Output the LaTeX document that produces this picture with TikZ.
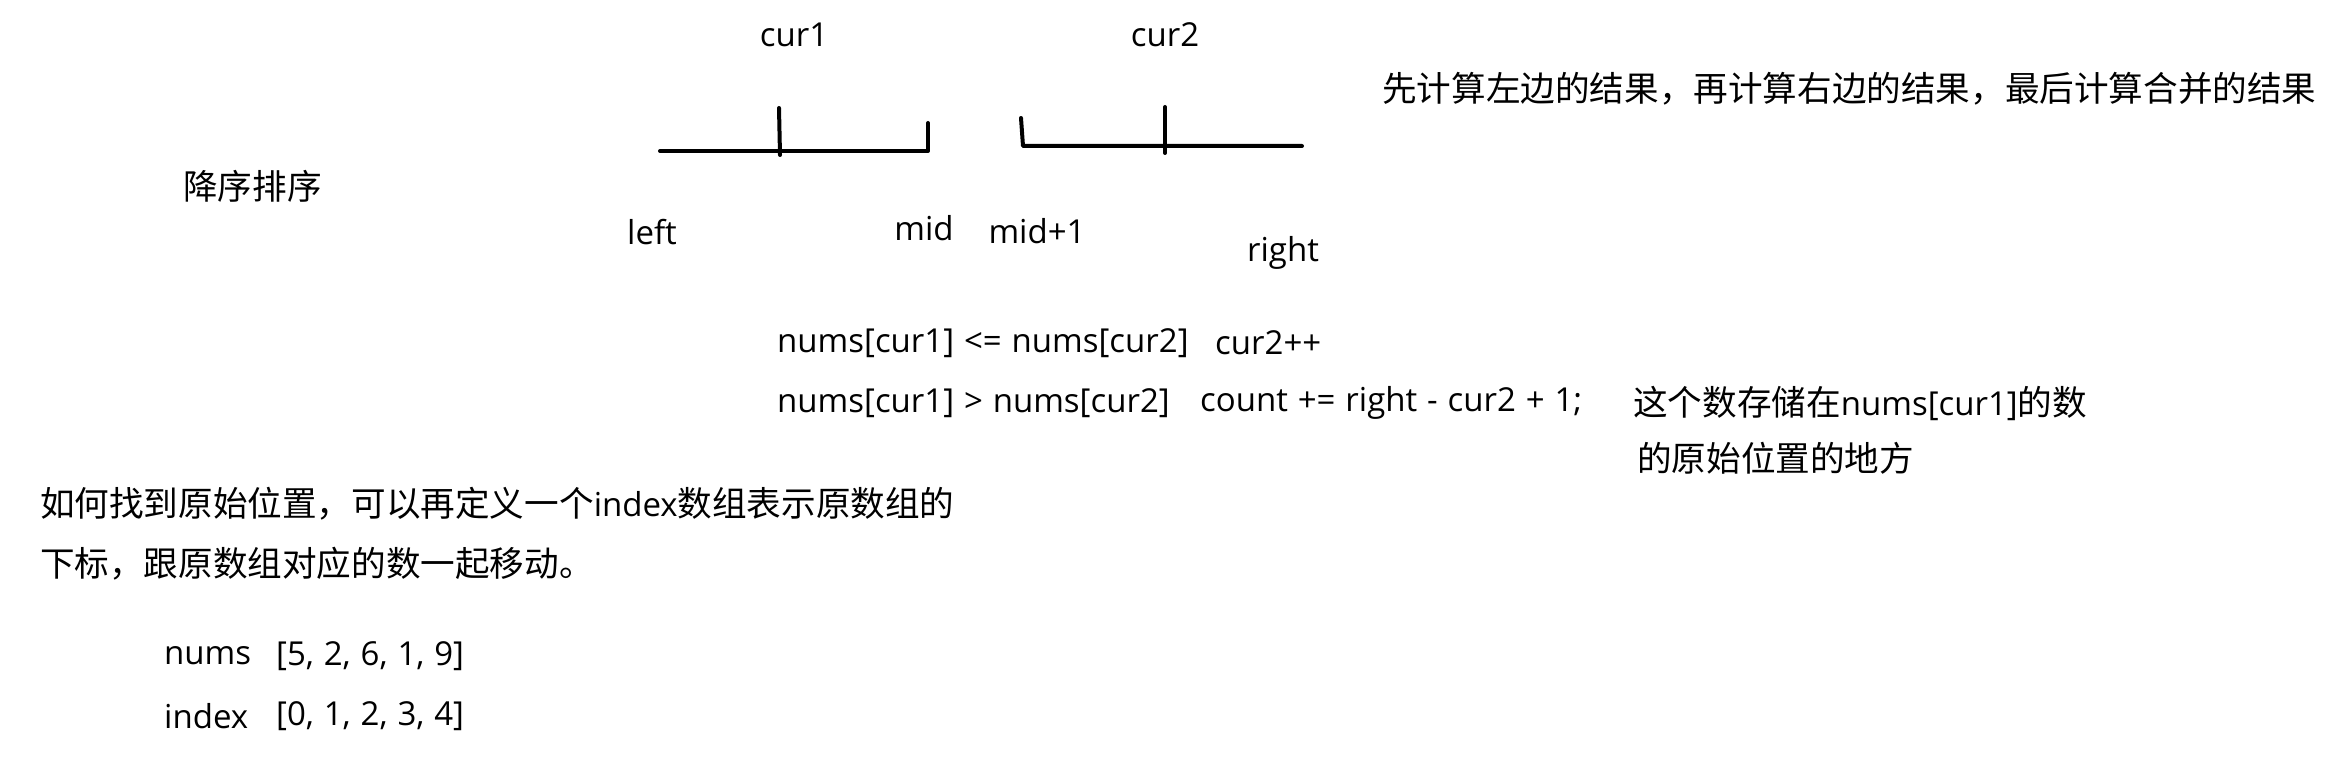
\documentclass[tikz,border=0pt]{standalone}
\usepackage{fontspec}
\setmainfont{Open Sans}[WordSpace=1.15]
\newfontfamily\cjkfont{Noto Sans CJK SC}
\newcommand\zhtext[1]{{\cjkfont\fontsize{34.6}{40}\selectfont #1}}
\begin{document}
\begin{tikzpicture}[x=1pt,y=-1pt,
  every node/.style={inner sep=0pt, font=\fontsize{33}{40}\selectfont},
  lbl/.style={anchor=west},
  stroke/.style={line width=4pt, line cap=round, line join=round}]
\useasboundingbox[fill=white] (0,0) rectangle (2338,759);
% sketch strokes
\draw[stroke] (660,151) -- (928,151) -- (928,123);
\draw[stroke] (779,108) -- (780,155);
\draw[stroke] (1021,118) -- (1023,146) -- (1302,146);
\draw[stroke] (1165,107) -- (1165,153);
% labels
\node (cur1) at (794,35) {cur1};
\node (cur2) at (1165,35) {cur2};
\node (left) at (652,232) {left};
\node (mid) at (924,228) {mid};
\node (mid1) at (1037,231) {mid+1};
\node (right) at (1283,253) {right};
\node[lbl] (title) at (1382,89) {\zhtext{先计算左边的结果，再计算右边的结果，最后计算合并的结果}};
\node[lbl] (sort) at (183,186) {\zhtext{降序排序}};
\node[lbl] (c1a) at (777,343) {nums[cur1] <= nums[cur2]};
\node[lbl] (c1b) at (1215,343) {cur2++};
\node[lbl] (c2a) at (777,403) {nums[cur1] > nums[cur2]};
\node[lbl] (c2b) at (1200,403) {count += right - cur2 + 1;};
\node[lbl] (c2c) at (1633,403) {\zhtext{这个数存储在}nums[cur1]\zhtext{的数}};
\node[lbl] (c2d) at (1637,458) {\zhtext{的原始位置的地方}};
\node[lbl] (q1) at (40,504) {\zhtext{如何找到原始位置，可以再定义一个}index\zhtext{数组表示原数组的}};
\node[lbl] (q2) at (40,564) {\zhtext{下标，跟原数组对应的数一起移动。}};
\node[lbl] (n1) at (164,656) {nums};
\node[lbl] (n2) at (276,656) {[5, 2, 6, 1, 9]};
\node[lbl] (i1) at (164,716) {index};
\node[lbl] (i2) at (276,716) {[0, 1, 2, 3, 4]};
\end{tikzpicture}
\end{document}
